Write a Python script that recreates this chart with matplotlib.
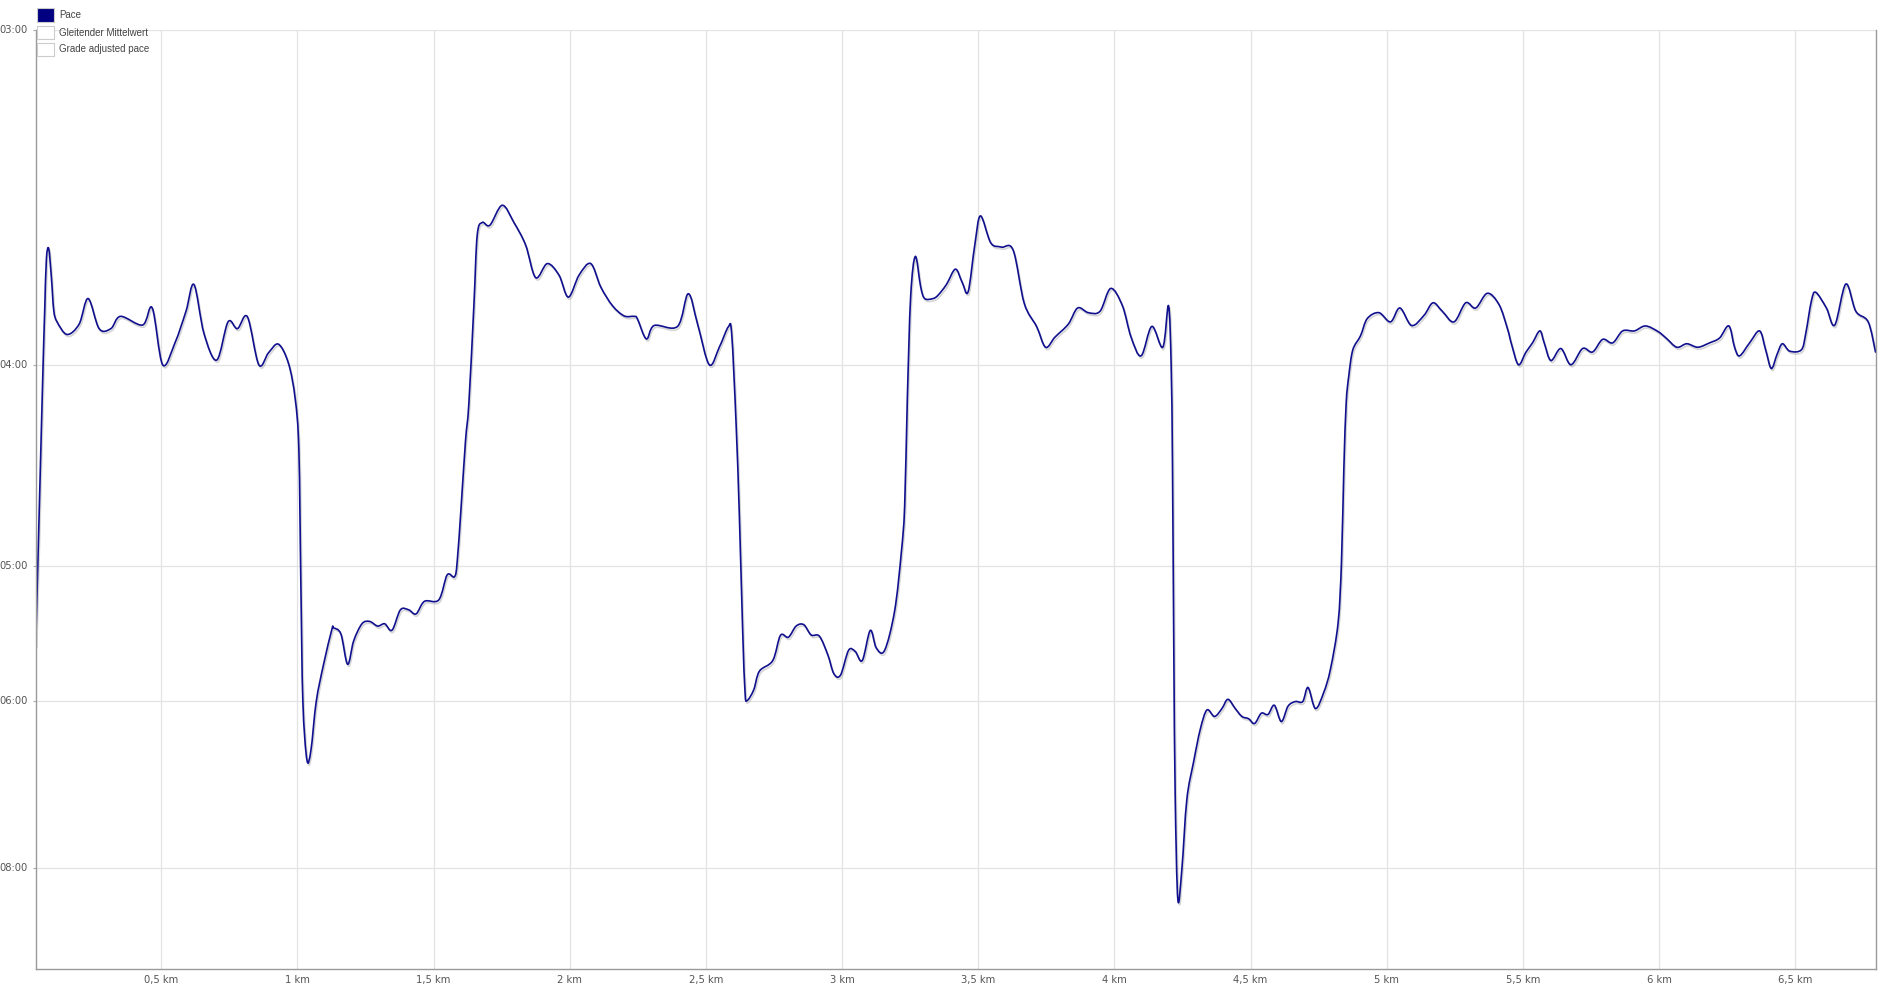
import numpy as np
import matplotlib
matplotlib.use("Agg")
import matplotlib.pyplot as plt
import matplotlib.patheffects as pe
from matplotlib.patches import Rectangle, PathPatch
from matplotlib.path import Path

# distance (km) and pace (seconds per km)
dist_km = [
    0.0386, 0.0435, 0.0534, 0.0656, 0.0717, 0.0779, 0.0865, 0.0963, 0.1049, 0.1171,
    0.1539, 0.1981, 0.2312, 0.2716, 0.3146, 0.3501, 0.4311, 0.4666, 0.5047, 0.5500,
    0.5905, 0.6199, 0.6567, 0.7033, 0.7450, 0.7794, 0.8161, 0.8579, 0.8934, 0.9302,
    0.9670, 0.9915, 1.0050, 1.0124, 1.0197, 1.0345, 1.0492, 1.0688, 1.0958, 1.1264,
    1.1325, 1.1595, 1.1841, 1.2062, 1.2368, 1.2650, 1.2945, 1.3202, 1.3472, 1.3779,
    1.4085, 1.4355, 1.4662, 1.5189, 1.5496, 1.5765, 1.5864, 1.6011, 1.6170, 1.6293,
    1.6477, 1.6599, 1.6783, 1.7065, 1.7519, 1.7948, 1.8377, 1.8746, 1.9175, 1.9604,
    1.9947, 2.0339, 2.0769, 2.1137, 2.1566, 2.1995, 2.2363,
    2.2480, 2.2811, 2.3099, 2.3957, 2.4350, 2.4693, 2.5122, 2.5490, 2.5822, 2.5944,
    2.6104, 2.6226, 2.6349, 2.6435, 2.6508, 2.6754, 2.6962, 2.7453, 2.7735, 2.8029,
    2.8311, 2.8593, 2.8863, 2.9170, 2.9477, 2.9697, 2.9942, 3.0237, 3.0482, 3.0740,
    3.1034, 3.1255, 3.1561, 3.1929, 3.2174, 3.2297, 3.2395, 3.2518, 3.2689, 3.2886,
    3.3033, 3.3340,
    3.3524, 3.3830, 3.4161, 3.4406, 3.4627, 3.4872, 3.5081, 3.5461, 3.5853, 3.6283,
    3.6688, 3.7141, 3.7472, 3.7816, 3.8306, 3.8650, 3.9042, 3.9471, 3.9864, 4.0293,
    4.0612, 4.0980, 4.1373, 4.1777, 4.1986, 4.2084, 4.2133, 4.2182, 4.2231, 4.2329,
    4.2476, 4.2660, 4.2906, 4.3151, 4.3396, 4.3678, 4.3948, 4.4168, 4.4438,
    4.4683, 4.4929, 4.5149, 4.5394, 4.5640, 4.5873, 4.6130, 4.6376, 4.6646, 4.6916,
    4.7112, 4.7382, 4.7688, 4.7934, 4.8216, 4.8338, 4.8425, 4.8510, 4.8608, 4.8755,
    4.9037, 4.9283, 4.9712, 5.0141, 5.0484, 5.0913, 5.1367, 5.1698, 5.2042, 5.2471,
    5.2900, 5.3268, 5.3697, 5.4127, 5.4433, 5.4592, 5.4838, 5.5107, 5.5353,
    5.5623, 5.5783, 5.6028, 5.6396, 5.6764, 5.7193, 5.7561, 5.7929, 5.8297, 5.8665,
    5.9095, 5.9499, 5.9953, 6.0259, 6.0652, 6.1020, 6.1425, 6.1854, 6.2222, 6.2565,
    6.2774, 6.2958, 6.3326, 6.3694, 6.3915, 6.4123, 6.4332, 6.4528, 6.4798, 6.5227,
    6.5387, 6.5595, 6.5755, 6.6147, 6.6454, 6.6859, 6.7227, 6.7681, 6.7949,
]
pace_s = [
    332.7, 310.8, 274.6, 240.2, 227.6, 217.1, 215.1, 220.8, 227.6, 230.1,
    232.9, 230.6, 225.1, 231.6, 231.6, 228.9, 230.8, 227.1, 239.9, 234.8,
    227.8, 222.2, 232.7, 238.8, 230.1, 231.6, 229.0, 239.9, 237.1, 235.1,
    239.6, 248.3, 262.1, 307.1, 360.5, 394.8, 388.9, 360.5, 341.5, 325.4,
    324.8, 327.5, 341.5, 330.6, 323.0, 322.0, 324.0, 323.0, 325.8, 317.1,
    317.1, 318.8, 313.6, 313.0, 303.2, 303.9, 298.3, 279.0, 259.5, 249.5,
    226.6, 212.6, 210.2, 210.7, 207.1, 210.2, 214.4, 220.8, 218.0, 220.3,
    224.8, 220.3, 218.0, 222.7, 226.6, 228.8, 228.9,
    229.4, 233.9, 230.9, 231.1, 224.1, 230.6, 239.9, 235.8, 231.2, 232.7,
    254.4, 282.0, 326.4, 355.6, 360.0, 354.3, 344.9, 339.7, 328.1, 328.9,
    324.0, 323.4, 327.9, 328.5, 337.1, 346.1, 346.8, 334.9, 335.4, 339.7,
    325.9, 333.8, 334.9, 317.5, 294.9, 279.0, 248.3, 224.6, 216.6, 222.7,
    225.1, 225.1,
    224.4, 222.2, 219.1, 221.7, 223.7, 214.4, 209.0, 214.0, 214.8, 215.4,
    226.1, 231.1, 235.8, 233.5, 230.6, 227.1, 228.1, 227.8, 223.0, 226.6,
    233.5, 237.8, 231.1, 235.8, 226.6, 240.2, 267.5, 337.1, 418.7, 511.7,
    480.9, 422.1, 396.3, 376.2, 365.1, 368.7, 364.3, 359.3, 364.3,
    368.7, 370.0, 372.7, 366.9, 367.6, 362.5, 371.6, 363.0, 360.5, 360.5,
    353.1, 364.3, 355.6, 343.8, 322.4, 298.3, 267.5, 249.5, 242.5, 236.4,
    233.2, 229.4, 228.1, 230.1, 227.1, 230.9, 228.7, 226.0, 227.8, 230.1,
    226.0, 227.1, 224.0, 226.4, 231.6, 235.3, 239.9, 237.0, 234.8,
    232.1, 234.8, 238.9, 236.1, 239.9, 236.1, 236.9, 234.0, 234.8, 232.1,
    232.1, 231.0, 232.2, 233.7, 235.8, 235.0, 235.8, 234.8, 233.7, 231.0,
    235.8, 237.8, 234.8, 232.1, 236.4, 240.8, 237.5, 235.0, 236.7, 236.4,
    232.7, 225.6, 223.8, 227.1, 230.8, 222.1, 227.8, 230.1, 236.9,
]

pace_ticks_min = [3, 4, 5, 6, 8]
pace_tick_labels = ["03:00", "04:00", "05:00", "06:00", "08:00"]
x_ticks = [0.5, 1, 1.5, 2, 2.5, 3, 3.5, 4, 4.5, 5, 5.5, 6, 6.5]
x_tick_labels = ["0,5 km", "1 km", "1,5 km", "2 km", "2,5 km", "3 km", "3,5 km",
                 "4 km", "4,5 km", "5 km", "5,5 km", "6 km", "6,5 km"]
legend_labels = ["Pace", "Gleitender Mittelwert", "Grade adjusted pace"]
legend_fill = ["#000080", "white", "white"]


def smooth_path(x, y):
    # catmull-rom style bezier through the points (drawing only)
    P = np.column_stack([x, y])
    n = len(P)
    verts = [P[0]]
    codes = [Path.MOVETO]
    for i in range(n - 1):
        p0 = P[max(i - 1, 0)]
        p1 = P[i]
        p2 = P[i + 1]
        p3 = P[min(i + 2, n - 1)]
        c1 = p1 + (p2 - p0) / 6.0
        c2 = p2 - (p3 - p1) / 6.0
        verts += [c1, c2, p2]
        codes += [Path.CURVE4] * 3
    return Path(verts, codes)


W, H = 1893, 985
fig = plt.figure(figsize=(W / 100, H / 100), dpi=100)
ax = fig.add_axes([35.7 / W, 16 / H, (1875.5 - 35.7) / W, (969 - 29.7) / H])

# the y axis is linear in speed (km per minute), labelled as pace
speed = 60.0 / np.array(pace_s)
line = PathPatch(smooth_path(dist_km, speed), fill=False, edgecolor="#10108f", lw=1.2,
                 joinstyle="round", capstyle="round",
                 path_effects=[pe.SimpleLineShadow(offset=(0.8, -1.5), shadow_color="#888888", alpha=0.35),
                               pe.Normal()])
ax.add_patch(line)

ax.set_xlim(dist_km[0], dist_km[-1])
ax.set_ylim(1 / 10, 1 / 3)

ax.set_yticks([1 / p for p in pace_ticks_min])
ax.set_yticklabels(pace_tick_labels)
ax.set_xticks(x_ticks)
ax.set_xticklabels(x_tick_labels)

ax.grid(True, color="#e3e3e3", lw=0.9)
ax.set_axisbelow(True)
ax.tick_params(axis="y", length=2, color="#aaaaaa", pad=4, labelsize=7.2, labelcolor="#555555")
ax.tick_params(axis="x", length=0, pad=4, labelsize=7.2, labelcolor="#555555")
for lab in ax.get_yticklabels():
    lab.set_verticalalignment("center")

ax.spines["top"].set_visible(False)
for s in ["left", "bottom", "right"]:
    ax.spines[s].set_color("#9a9a9a")
    ax.spines[s].set_linewidth(1.0)

# legend in the top left corner
tops = [8.5, 26, 43]
for lab, fc, t in zip(legend_labels, legend_fill, tops):
    fig.patches.append(Rectangle((37.3 / W, 1 - (t + 13) / H), 16.7 / W, 13 / H,
                                 transform=fig.transFigure, facecolor=fc,
                                 edgecolor="#cccccc", lw=0.8))
    fig.text(59.3 / W, 1 - (t + 6.5) / H, lab, fontsize=7, family="Liberation Sans",
             color="#444444", va="center", ha="left")

fig.savefig("out.png", dpi=100, facecolor="white")
